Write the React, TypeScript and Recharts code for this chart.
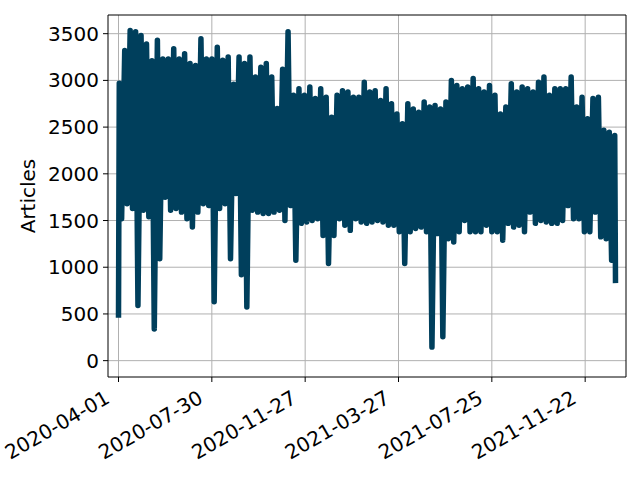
import React from 'react';
import { LineChart, Line, XAxis, YAxis, CartesianGrid, ReferenceArea, Label } from 'recharts';

const startValue = 460;
const endValue = 830;

const weeklyPeaks = [
  2970, 3320, 3535, 3520, 3480, 3390, 3210, 3430, 3230, 3230,
  3340, 3230, 3285, 3180, 3160, 3445, 3230, 3230, 3355, 3215,
  3250, 2960, 3250, 3180, 3250, 3035, 3140, 3180, 3035, 2700,
  3120, 3520, 2840, 2910, 2840, 2930, 2805, 2910, 2820, 2605,
  2840, 2890, 2875, 2820, 2820, 2980, 2875, 2890, 2785, 2910,
  2750, 2640, 2535, 2750, 2695, 2660, 2770, 2715, 2730, 2695,
  2770, 3000, 2945, 2910, 2930, 3020, 2910, 2875, 2945, 2840,
  2640, 2715, 2965, 2875, 2930, 2910, 2875, 2980, 3035, 2840,
  2910, 2910, 2910, 3035, 2715, 2820, 2590, 2805, 2820, 2465,
  2445, 2410,
];

const weeklyLows = [
  1520, 1680, 1630, 590, 1610, 1540, 340, 1090, 1750, 1610,
  1630, 1590, 1520, 1430, 1590, 1680, 1660, 630, 1630, 1680,
  1090, 1790, 920, 575, 1610, 1590, 1575, 1575, 1590, 1610,
  1500, 1660, 1075, 1470, 1485, 1500, 1520, 1340, 1040, 1340,
  1520, 1450, 1395, 1520, 1485, 1470, 1485, 1500, 1485, 1450,
  1450, 1380, 1040, 1380, 1415, 1430, 1380, 145, 1360, 255,
  1305, 1270, 1380, 1500, 1380, 1380, 1380, 1450, 1380, 1380,
  1290, 1470, 1430, 1450, 1380, 1590, 1470, 1500, 1485, 1470,
  1470, 1500, 1660, 1520, 1520, 1380, 1380, 1590, 1325, 1305,
  1075,
];

const lastDay = 639;
const tickDays = [0, 120, 240, 360, 480, 600];
const tickLabels = ['2020-04-01', '2020-07-30', '2020-11-27', '2021-03-27', '2021-07-25', '2021-11-22'];
const yTicks = [0, 500, 1000, 1500, 2000, 2500, 3000, 3500];

const data: { day: number; articles: number }[] = [{ day: 0, articles: startValue }];
weeklyPeaks.forEach((peak, w) => {
  data.push({ day: 7 * w + 1, articles: peak });
  if (w < weeklyLows.length) data.push({ day: 7 * w + 4, articles: weeklyLows[w] });
});
data.push({ day: lastDay, articles: endValue });

const FONT = 'DejaVu Sans';

const DateTick = (props: any) => {
  const { x, y, payload } = props;
  const label = tickLabels[tickDays.indexOf(payload.value)] ?? '';
  const bx = x - 7.5;
  const by = y + 18;
  return (
    <text x={bx} y={by} textAnchor="end" fontSize={20} fontFamily={FONT} fill="#000"
      transform={`rotate(-30, ${bx}, ${by})`}>
      {label}
    </text>
  );
};

export default function App() {
  return (
    <div style={{ position: 'absolute', left: 0, top: 0, width: 640, height: 480, background: '#fff' }}>
      <LineChart width={640} height={480} data={data}
        margin={{ top: 15, right: 14, bottom: 0, left: 0 }}>
        <CartesianGrid stroke="#b0b0b0" strokeWidth={1} vertical horizontal
          verticalValues={tickDays} horizontalValues={yTicks} />
        <XAxis type="number" dataKey="day" domain={[-13.5, 652.5]} ticks={tickDays}
          allowDataOverflow height={103} axisLine={false}
          tickLine={{ stroke: '#000', strokeWidth: 1 }} tickSize={5} tick={<DateTick />} interval={0} />
        <YAxis type="number" domain={[-175, 3700]} ticks={yTicks} allowDataOverflow width={108}
          axisLine={false} tickLine={{ stroke: '#000', strokeWidth: 1 }} tickSize={5} tickMargin={4}
          tick={{ fontSize: 20, fontFamily: FONT, fill: '#000' }} interval={0}>
          <Label content={(p: any) => {
            const vb = p.viewBox || {};
            const cx = 28;
            const cy = (vb.y ?? 15) + (vb.height ?? 362) / 2;
            return (
              <text x={cx} y={cy} textAnchor="middle" dominantBaseline="central" fontSize={20}
                fontFamily={FONT} fill="#000" transform={`rotate(-90, ${cx}, ${cy})`}>
                Articles
              </text>
            );
          }} />
        </YAxis>
        <Line type="linear" dataKey="articles" stroke="#003f5c" strokeWidth={5.5} dot={false}
          activeDot={false} strokeLinejoin="round" strokeLinecap="butt" isAnimationActive={false} />
        <ReferenceArea x1={-13.5} x2={652.5} y1={-175} y2={3700} fill="none" stroke="#000"
          strokeWidth={1} fillOpacity={0} ifOverflow="extendDomain" />
      </LineChart>
    </div>
  );
}
